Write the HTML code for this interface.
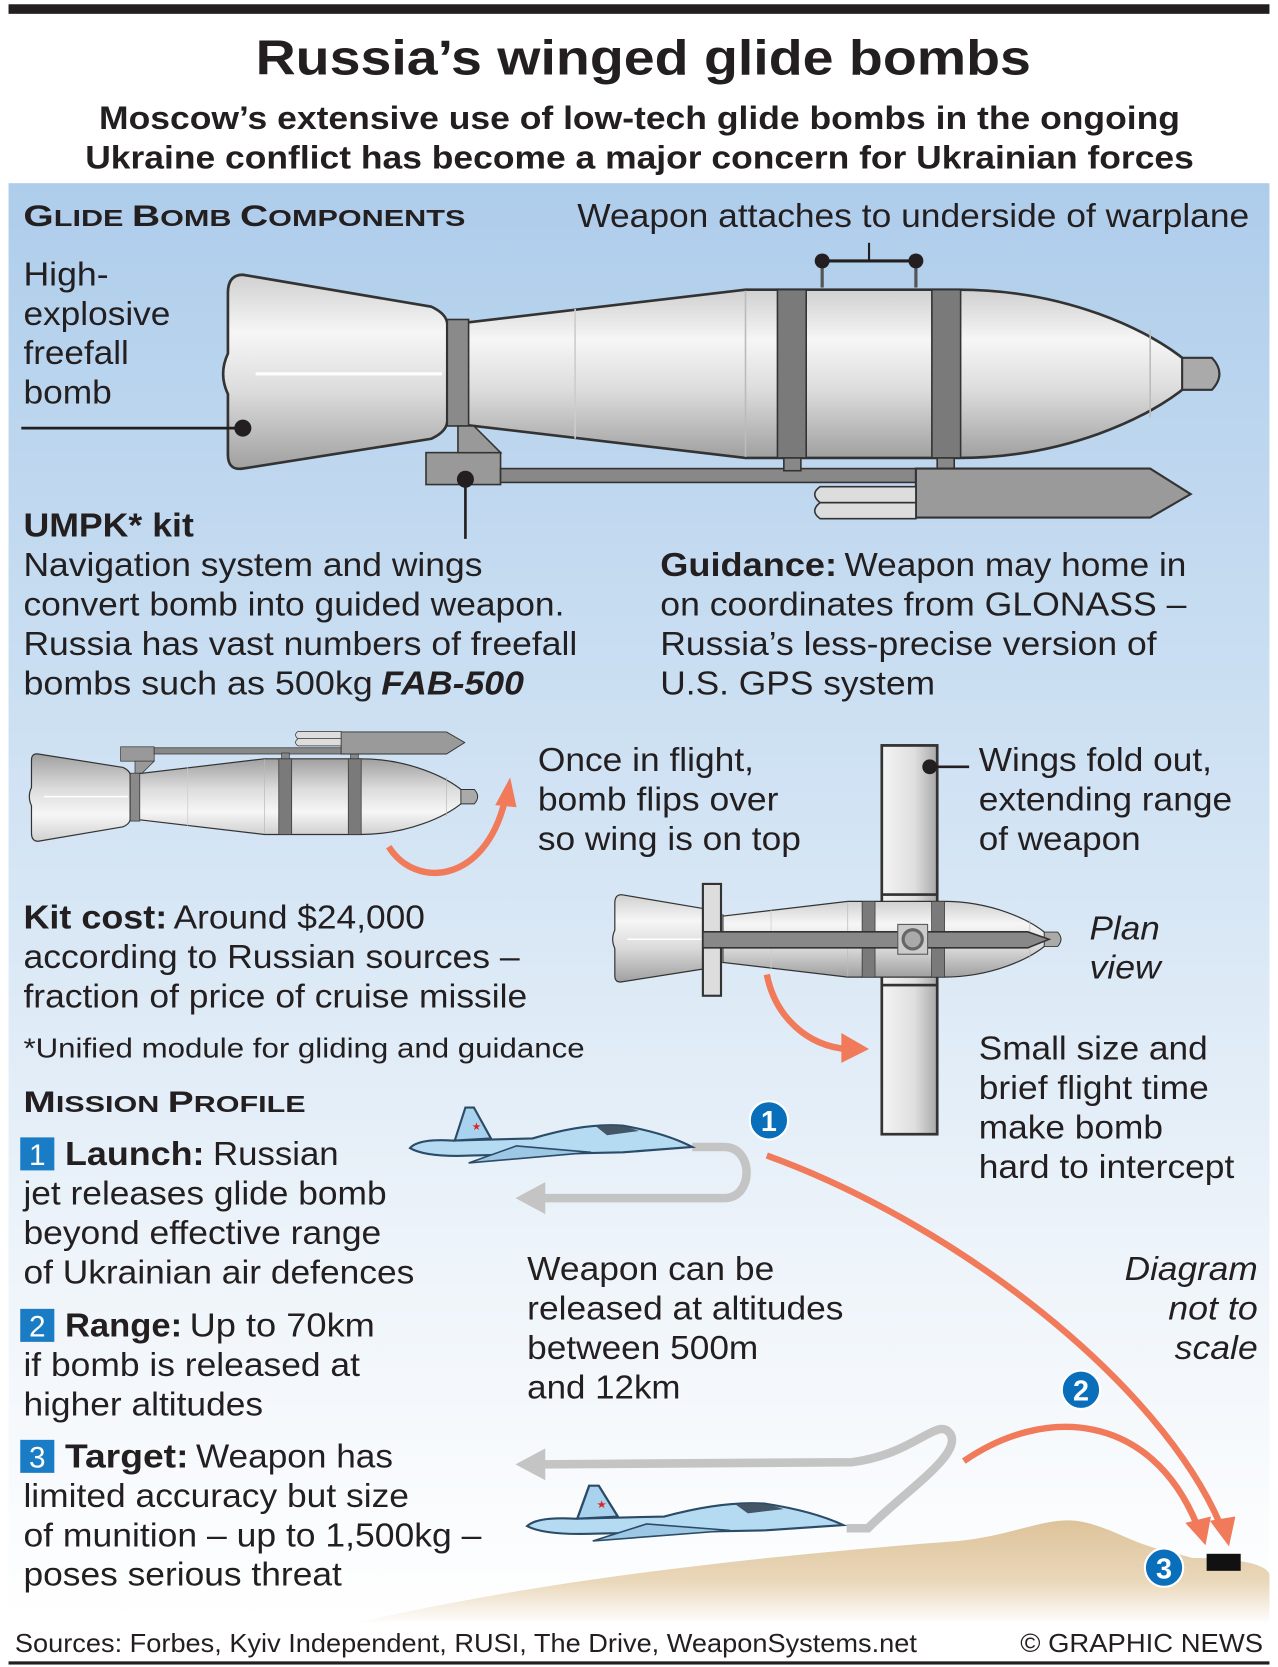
<!DOCTYPE html>
<html><head><meta charset="utf-8"><style>
html,body{margin:0;padding:0;background:#fff}
svg{display:block}
text{font-family:"Liberation Sans",sans-serif;fill:#231f20}
.b{font-weight:bold}
</style></head><body>
<svg width="1278" height="1667" viewBox="0 0 1200 1565.3" xmlns="http://www.w3.org/2000/svg">
<defs>
<linearGradient id="bg" x1="0" y1="0" x2="0" y2="1">
<stop offset="0" stop-color="#aecdeb"/><stop offset="0.45" stop-color="#d3e4f4"/><stop offset="0.75" stop-color="#eef4fa"/><stop offset="1" stop-color="#ffffff"/>
</linearGradient>
<linearGradient id="metal" x1="0" y1="0" x2="0" y2="1">
<stop offset="0" stop-color="#d0d0d0"/><stop offset="0.3" stop-color="#f6f6f6"/><stop offset="0.6" stop-color="#dcdcdc"/><stop offset="1" stop-color="#a0a0a0"/>
</linearGradient>
<linearGradient id="wingg" x1="0" y1="0" x2="1" y2="0">
<stop offset="0" stop-color="#f4f4f4"/><stop offset="0.6" stop-color="#dedede"/><stop offset="1" stop-color="#a8a8a8"/>
</linearGradient>
<linearGradient id="ground" x1="0" y1="0" x2="0" y2="1">
<stop offset="0" stop-color="#ddc39a"/><stop offset="0.6" stop-color="#ead8bb"/><stop offset="1" stop-color="#ffffff"/>
</linearGradient>
<g id="body">
<path d="M228,258 Q214,258 214,275 L214,332 Q205,351 214,370 L214,427 Q214,442 228,440 L405,412 Q420,405 420,395 L420,305 Q420,295 405,288 Z" fill="url(#metal)" stroke="#333" stroke-width="2.5"/>
<path d="M420,305 L700,272 L900,272 C1000,272 1080,310 1115,340 L1115,362 C1080,392 1000,430 900,430 L700,430 L420,397 Z" fill="url(#metal)" stroke="#333" stroke-width="2.5"/>
<path d="M1110,336 L1138,336 Q1152,351 1138,366 L1110,366 Z" fill="#aaa" stroke="#333" stroke-width="2"/>
<rect x="420" y="300" width="20" height="100" fill="#8a8a8a" stroke="#333" stroke-width="1.5"/>
<line x1="700" y1="273" x2="700" y2="429" stroke="#bbb" stroke-width="1.5"/>
<line x1="540" y1="290" x2="540" y2="412" stroke="#ccc" stroke-width="1.5"/>
<line x1="1080" y1="310" x2="1080" y2="392" stroke="#bbb" stroke-width="1.5"/>
<line x1="240" y1="351" x2="415" y2="351" stroke="#fff" stroke-width="3"/>
</g>
<g id="kit">
<rect x="730" y="272" width="27" height="158" fill="#7a7a7a" stroke="#333" stroke-width="1.5"/>
<rect x="875" y="272" width="27" height="158" fill="#7a7a7a" stroke="#333" stroke-width="1.5"/>
<rect x="400" y="425" width="70" height="30" fill="#999" stroke="#333" stroke-width="1.5"/>
<path d="M430,400 L445,400 L470,425 L430,425 Z" fill="#999" stroke="#333" stroke-width="1.5"/>
<rect x="470" y="440" width="410" height="13" fill="#888" stroke="#333" stroke-width="1.5"/>
<rect x="736" y="430" width="16" height="12" fill="#888" stroke="#333" stroke-width="1.5"/>
<rect x="880" y="430" width="16" height="12" fill="#888" stroke="#333" stroke-width="1.5"/>
<path d="M860,440 L1080,440 L1118,464 L1080,486 L860,486 Z" fill="#9a9a9a" stroke="#333" stroke-width="2"/>
<path d="M770,457 L860,457 L860,472 L770,472 Q760,464 770,457 Z" fill="#ddd" stroke="#333" stroke-width="1.5"/>
<path d="M770,472 L860,472 L860,487 L770,487 Q760,480 770,472 Z" fill="#ddd" stroke="#333" stroke-width="1.5"/>
</g>
<g id="jet">
<path d="M0,38 Q8,29 40,31 L115,29 Q165,14 200,17 Q240,24 265,37 L200,42 L60,45 Q15,47 0,38 Z" fill="#b5dbf2" stroke="#2b4b66" stroke-width="2"/>
<path d="M42,31 L52,0 L60,0 L76,29 Z" fill="#a9d2ee" stroke="#2b4b66" stroke-width="2"/>
<path d="M100,36 L55,52 L170,42 Z" fill="#9cc8e6" stroke="#2b4b66" stroke-width="1.5"/>
<path d="M175,18 Q195,14 215,22 L185,26 Z" fill="#456" />
<text x="58" y="21" style="font-size:10px;fill:#d22">★</text>
</g>
</defs>

<!-- header -->
<rect x="8" y="4" width="1184" height="9" fill="#231f20"/>
<text class="b" x="240" y="70" style="font-size:46px" textLength="728" lengthAdjust="spacingAndGlyphs">Russia’s winged glide bombs</text>
<text class="b" x="93" y="121" style="font-size:30px" textLength="1015" lengthAdjust="spacingAndGlyphs">Moscow’s extensive use of low-tech glide bombs in the ongoing</text>
<text class="b" x="80" y="158" style="font-size:30px" textLength="1041" lengthAdjust="spacingAndGlyphs">Ukraine conflict has become a major concern for Ukrainian forces</text>

<!-- panel -->
<rect x="8" y="172" width="1184" height="1353" fill="url(#bg)"/>
<path d="M330,1525 C500,1485 700,1462 900,1447 C950,1442 980,1425 1010,1428 C1040,1432 1060,1448 1090,1455 L1120,1463 C1160,1463 1188,1468 1192,1478 L1192,1525 Z" fill="url(#ground)"/>

<text class="b" x="22" y="212" textLength="415" lengthAdjust="spacingAndGlyphs"><tspan style="font-size:28px">G</tspan><tspan style="font-size:22px">LIDE </tspan><tspan style="font-size:28px">B</tspan><tspan style="font-size:22px">OMB </tspan><tspan style="font-size:28px">C</tspan><tspan style="font-size:22px">OMPONENTS</tspan></text>
<text x="542" y="213" style="font-size:31px" textLength="631" lengthAdjust="spacingAndGlyphs">Weapon attaches to underside of warplane</text>

<!-- big bomb -->
<line x1="816" y1="228" x2="816" y2="245" stroke="#231f20" stroke-width="2"/>
<line x1="772" y1="245" x2="860" y2="245" stroke="#231f20" stroke-width="3"/>
<line x1="772" y1="245" x2="772" y2="270" stroke="#555" stroke-width="3"/>
<line x1="860" y1="245" x2="860" y2="270" stroke="#555" stroke-width="3"/>
<circle cx="772" cy="245" r="7" fill="#231f20"/><circle cx="860" cy="245" r="7" fill="#231f20"/>
<use href="#body"/><use href="#kit"/>

<text x="22" y="268" style="font-size:31px" textLength="80" lengthAdjust="spacingAndGlyphs">High-</text>
<text x="22" y="305" style="font-size:31px" textLength="138" lengthAdjust="spacingAndGlyphs">explosive</text>
<text x="22" y="342" style="font-size:31px" textLength="99" lengthAdjust="spacingAndGlyphs">freefall</text>
<text x="22" y="379" style="font-size:31px" textLength="83" lengthAdjust="spacingAndGlyphs">bomb</text>
<line x1="20" y1="402" x2="228" y2="402" stroke="#231f20" stroke-width="2.5"/>
<circle cx="228" cy="402" r="8" fill="#231f20"/>
<line x1="437" y1="450" x2="437" y2="506" stroke="#231f20" stroke-width="2.5"/>
<circle cx="437" cy="450" r="8" fill="#231f20"/>

<text class="b" x="22" y="504" style="font-size:31px" textLength="160" lengthAdjust="spacingAndGlyphs">UMPK* kit</text>
<text x="22" y="541" style="font-size:31px" textLength="431" lengthAdjust="spacingAndGlyphs">Navigation system and wings</text>
<text x="22" y="578" style="font-size:31px" textLength="508" lengthAdjust="spacingAndGlyphs">convert bomb into guided weapon.</text>
<text x="22" y="615" style="font-size:31px" textLength="520" lengthAdjust="spacingAndGlyphs">Russia has vast numbers of freefall</text>
<text x="22" y="652" style="font-size:31px" textLength="328" lengthAdjust="spacingAndGlyphs">bombs such as 500kg</text>
<text class="b" x="358" y="652" style="font-size:31px;font-style:italic" textLength="134" lengthAdjust="spacingAndGlyphs">FAB-500</text>

<text class="b" x="620" y="541" style="font-size:31px" textLength="166" lengthAdjust="spacingAndGlyphs">Guidance:</text>
<text x="793" y="541" style="font-size:31px" textLength="321" lengthAdjust="spacingAndGlyphs">Weapon may home in</text>
<text x="620" y="578" style="font-size:31px" textLength="494" lengthAdjust="spacingAndGlyphs">on coordinates from GLONASS –</text>
<text x="620" y="615" style="font-size:31px" textLength="466" lengthAdjust="spacingAndGlyphs">Russia’s less-precise version of</text>
<text x="620" y="652" style="font-size:31px" textLength="258" lengthAdjust="spacingAndGlyphs">U.S. GPS system</text>

<!-- small bomb flipped -->
<g transform="translate(-66.75,906) scale(0.45,-0.45)"><use href="#body"/><use href="#kit"/></g>
<path d="M365,795 C390,835 455,830 474,752" fill="none" stroke="#f07a5a" stroke-width="6"/>
<polygon points="465,756 485,758 479,730" fill="#f07a5a"/>

<text x="505" y="724" style="font-size:31px" textLength="203" lengthAdjust="spacingAndGlyphs">Once in flight,</text>
<text x="505" y="761" style="font-size:31px" textLength="226" lengthAdjust="spacingAndGlyphs">bomb flips over</text>
<text x="505" y="798" style="font-size:31px" textLength="247" lengthAdjust="spacingAndGlyphs">so wing is on top</text>

<!-- plan view -->
<rect x="828" y="700" width="52" height="365" fill="url(#wingg)" stroke="#333" stroke-width="2.5"/>
<g transform="translate(481,724) scale(0.45)"><use href="#body"/>
<rect x="730" y="272" width="27" height="158" fill="#7a7a7a" stroke="#333" stroke-width="1.5"/>
<rect x="875" y="272" width="27" height="158" fill="#7a7a7a" stroke="#333" stroke-width="1.5"/></g>
<rect x="828" y="700" width="52" height="140" fill="url(#wingg)" stroke="#333" stroke-width="2.5"/>
<rect x="828" y="925" width="52" height="140" fill="url(#wingg)" stroke="#333" stroke-width="2.5"/>
<rect x="660" y="830" width="17" height="105" fill="#ddd" stroke="#333" stroke-width="2"/>
<path d="M660,875 L965,875 L985,882 L965,890 L660,890 Z" fill="#888" stroke="#333" stroke-width="1.5"/>
<rect x="843" y="868" width="28" height="28" fill="#ccc" stroke="#555" stroke-width="1"/>
<circle cx="857" cy="882" r="9" fill="#aaa" stroke="#666" stroke-width="3"/>
<circle cx="873" cy="720" r="7" fill="#231f20"/>
<line x1="873" y1="720" x2="910" y2="720" stroke="#231f20" stroke-width="2.5"/>
<path d="M720,915 C728,955 758,982 795,985" fill="none" stroke="#f07a5a" stroke-width="6"/>
<polygon points="790,970 816,985 790,998" fill="#f07a5a"/>

<text x="919" y="724" style="font-size:31px" textLength="219" lengthAdjust="spacingAndGlyphs">Wings fold out,</text>
<text x="919" y="761" style="font-size:31px" textLength="238" lengthAdjust="spacingAndGlyphs">extending range</text>
<text x="919" y="798" style="font-size:31px" textLength="152" lengthAdjust="spacingAndGlyphs">of weapon</text>
<text x="1023" y="882" style="font-size:31px;font-style:italic" textLength="66" lengthAdjust="spacingAndGlyphs">Plan</text>
<text x="1023" y="919" style="font-size:31px;font-style:italic" textLength="67" lengthAdjust="spacingAndGlyphs">view</text>

<text class="b" x="22" y="872" style="font-size:31px" textLength="135" lengthAdjust="spacingAndGlyphs">Kit cost:</text>
<text x="163" y="872" style="font-size:31px" textLength="236" lengthAdjust="spacingAndGlyphs">Around $24,000</text>
<text x="22" y="909" style="font-size:31px" textLength="466" lengthAdjust="spacingAndGlyphs">according to Russian sources –</text>
<text x="22" y="946" style="font-size:31px" textLength="473" lengthAdjust="spacingAndGlyphs">fraction of price of cruise missile</text>
<text x="22" y="993" style="font-size:26px" textLength="527" lengthAdjust="spacingAndGlyphs">*Unified module for gliding and guidance</text>

<text x="919" y="995" style="font-size:31px" textLength="215" lengthAdjust="spacingAndGlyphs">Small size and</text>
<text x="919" y="1032" style="font-size:31px" textLength="216" lengthAdjust="spacingAndGlyphs">brief flight time</text>
<text x="919" y="1069" style="font-size:31px" textLength="173" lengthAdjust="spacingAndGlyphs">make bomb</text>
<text x="919" y="1106" style="font-size:31px" textLength="240" lengthAdjust="spacingAndGlyphs">hard to intercept</text>

<!-- mission -->
<text class="b" x="22" y="1044" textLength="265" lengthAdjust="spacingAndGlyphs"><tspan style="font-size:28px">M</tspan><tspan style="font-size:22px">ISSION </tspan><tspan style="font-size:28px">P</tspan><tspan style="font-size:22px">ROFILE</tspan></text>

<rect x="19" y="1068" width="32" height="31" fill="#1a7cc4"/>
<text x="35" y="1094" style="font-size:28px;fill:#fff" text-anchor="middle">1</text>
<text class="b" x="61" y="1094" style="font-size:31px" textLength="131" lengthAdjust="spacingAndGlyphs">Launch:</text>
<text x="200" y="1094" style="font-size:31px" textLength="118" lengthAdjust="spacingAndGlyphs">Russian</text>
<text x="22" y="1131" style="font-size:31px" textLength="341" lengthAdjust="spacingAndGlyphs">jet releases glide bomb</text>
<text x="22" y="1168" style="font-size:31px" textLength="336" lengthAdjust="spacingAndGlyphs">beyond effective range</text>
<text x="22" y="1205" style="font-size:31px" textLength="367" lengthAdjust="spacingAndGlyphs">of Ukrainian air defences</text>

<rect x="19" y="1229" width="32" height="31" fill="#1a7cc4"/>
<text x="35" y="1255" style="font-size:28px;fill:#fff" text-anchor="middle">2</text>
<text class="b" x="61" y="1255" style="font-size:31px" textLength="110" lengthAdjust="spacingAndGlyphs">Range:</text>
<text x="178" y="1255" style="font-size:31px" textLength="174" lengthAdjust="spacingAndGlyphs">Up to 70km</text>
<text x="22" y="1292" style="font-size:31px" textLength="316" lengthAdjust="spacingAndGlyphs">if bomb is released at</text>
<text x="22" y="1329" style="font-size:31px" textLength="225" lengthAdjust="spacingAndGlyphs">higher altitudes</text>

<rect x="19" y="1352" width="32" height="31" fill="#1a7cc4"/>
<text x="35" y="1378" style="font-size:28px;fill:#fff" text-anchor="middle">3</text>
<text class="b" x="61" y="1378" style="font-size:31px" textLength="116" lengthAdjust="spacingAndGlyphs">Target:</text>
<text x="184" y="1378" style="font-size:31px" textLength="185" lengthAdjust="spacingAndGlyphs">Weapon has</text>
<text x="22" y="1415" style="font-size:31px" textLength="362" lengthAdjust="spacingAndGlyphs">limited accuracy but size</text>
<text x="22" y="1452" style="font-size:31px" textLength="430" lengthAdjust="spacingAndGlyphs">of munition – up to 1,500kg –</text>
<text x="22" y="1489" style="font-size:31px" textLength="299" lengthAdjust="spacingAndGlyphs">poses serious threat</text>

<text x="495" y="1202" style="font-size:31px" textLength="232" lengthAdjust="spacingAndGlyphs">Weapon can be</text>
<text x="495" y="1239" style="font-size:31px" textLength="297" lengthAdjust="spacingAndGlyphs">released at altitudes</text>
<text x="495" y="1276" style="font-size:31px" textLength="217" lengthAdjust="spacingAndGlyphs">between 500m</text>
<text x="495" y="1313" style="font-size:31px" textLength="144" lengthAdjust="spacingAndGlyphs">and 12km</text>

<text x="1181" y="1202" style="font-size:31px;font-style:italic" text-anchor="end" textLength="125" lengthAdjust="spacingAndGlyphs">Diagram</text>
<text x="1181" y="1239" style="font-size:31px;font-style:italic" text-anchor="end" textLength="84" lengthAdjust="spacingAndGlyphs">not to</text>
<text x="1181" y="1276" style="font-size:31px;font-style:italic" text-anchor="end" textLength="78" lengthAdjust="spacingAndGlyphs">scale</text>

<!-- gray arrows -->
<path d="M650,1077 L680,1077 C708,1077 708,1125 680,1125 L508,1125" fill="none" stroke="#c4c4c4" stroke-width="8"/>
<polygon points="484,1125 512,1110 512,1140" fill="#c4c4c4"/>
<path d="M795,1435 L815,1435 C850,1400 905,1365 892,1346 C880,1330 860,1365 800,1373 L508,1375" fill="none" stroke="#c4c4c4" stroke-width="8"/>
<polygon points="484,1375 512,1360 512,1390" fill="#c4c4c4"/>

<use href="#jet" transform="translate(385,1040)"/>
<use href="#jet" transform="translate(495,1395) scale(1.12,1)"/>

<!-- orange arcs -->
<path d="M720,1085 C900,1150 1090,1300 1146,1432" fill="none" stroke="#f07a5a" stroke-width="6"/>
<polygon points="1136,1428 1160,1424 1154,1452" fill="#f07a5a"/>
<path d="M905,1372 C980,1320 1080,1325 1124,1432" fill="none" stroke="#f07a5a" stroke-width="6"/>
<polygon points="1113,1430 1137,1424 1132,1451" fill="#f07a5a"/>

<g style="font-weight:bold">
<circle cx="722" cy="1052" r="18" fill="#0a6fba" stroke="#fff" stroke-width="2"/>
<text x="722" y="1062" style="font-size:27px;fill:#fff;font-weight:bold" text-anchor="middle">1</text>
<circle cx="1015" cy="1305" r="18" fill="#0a6fba" stroke="#fff" stroke-width="2"/>
<text x="1015" y="1315" style="font-size:27px;fill:#fff;font-weight:bold" text-anchor="middle">2</text>
<circle cx="1093" cy="1472" r="18" fill="#0a6fba" stroke="#fff" stroke-width="2"/>
<text x="1093" y="1482" style="font-size:27px;fill:#fff;font-weight:bold" text-anchor="middle">3</text>
</g>
<rect x="1133" y="1459" width="32" height="16" fill="#111"/>

<!-- footer -->
<text x="14" y="1551" style="font-size:24px" textLength="847" lengthAdjust="spacingAndGlyphs">Sources: Forbes, Kyiv Independent, RUSI, The Drive, WeaponSystems.net</text>
<text x="958" y="1551" style="font-size:24px" textLength="228" lengthAdjust="spacingAndGlyphs">© GRAPHIC NEWS</text>
<rect x="8" y="1560" width="1184" height="3" fill="#231f20"/>
</svg>
</body></html>
